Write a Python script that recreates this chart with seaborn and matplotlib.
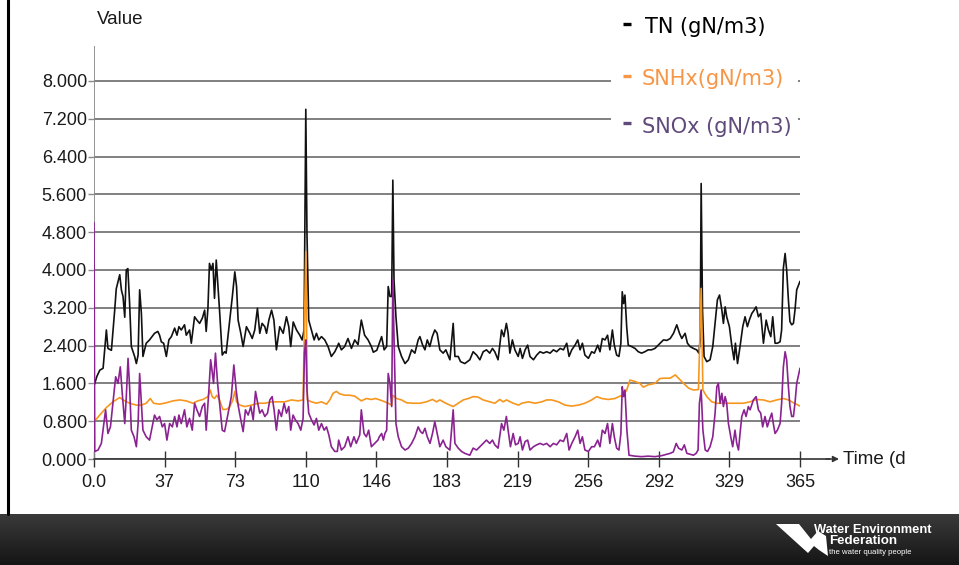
import numpy as np
import matplotlib
matplotlib.use("Agg")
import matplotlib.pyplot as plt
from matplotlib.patches import Rectangle, Polygon
from matplotlib.lines import Line2D
import seaborn as sns

# ---- simulated effluent nitrogen, one year ----
tn_day = [0, 1.5, 3, 4.7, 6.4, 7.2, 9, 10.7, 11.5, 13.3, 14.2, 15, 15.9, 16.7, 17.5, 18.4, 19.3,
          21, 21.9, 22.8, 23.6, 24.5, 25.3, 27, 28.7, 31.3, 33, 33.9, 34.8, 36, 37.4, 38.7, 40,
          41.7, 42.9, 43.9, 45.1, 46.8, 47.7, 49.4, 50.3, 52, 53.2, 54.6, 56, 57.2, 58, 58.9,
          59.7, 60.6, 61.5, 62.3, 63.2, 64, 64.9, 66.3, 67.5, 68.3, 70, 71.5, 72.8, 73.7, 74.5,
          75.9, 77.1, 78.8, 80.6, 81.8, 83.1, 84.5, 85.7, 86.9, 88.3, 89.2, 90.4, 91.8, 93, 94.3,
          96, 97.8, 99.5, 100.7, 101.7, 103, 104.7, 106.4, 107.6, 108.6, 109.5, 110.1, 111,
          112.4, 113.8, 115, 116.2, 117.6, 119.3, 121, 122.7, 124.5, 125.8, 126.5, 127.9, 129.6,
          131.3, 133.1, 134.8, 136.5, 138.2, 139.9, 141.7, 143.4, 144.4, 146.2, 147.5, 148.7,
          150, 151.3, 152.1, 153, 153.9, 154.5, 155.1, 156.1, 157.3, 159, 160.8, 162.5, 164.2,
          165.9, 167.6, 168.5, 169.9, 171.1, 172.3, 173.6, 174.9, 176.2, 177.4, 178.8, 180.5,
          181.9, 184, 185.7, 186.6, 188.3, 189.5, 191.7, 194.3, 196, 197.8, 199.5, 201.2, 202.9,
          204.6, 206, 207.2, 208.9, 210.7, 211.9, 213.2, 214.1, 215, 216.3, 217.6, 219.3, 220.3,
          221.5, 222.9, 224.2, 225.4, 227.2, 228.9, 230.6, 232.3, 234, 235.8, 237.5, 239.2, 241,
          242.7, 244.4, 245.6, 247, 248.7, 250.1, 251.3, 252.5, 253.8, 255.6, 257.3, 258.7,
          260.4, 261.6, 262.8, 264.2, 265.5, 266.7, 268, 269, 270.2, 271.4, 272.4, 273.1, 273.8,
          274.5, 275.4, 276.2, 277.9, 279.7, 281.4, 283.1, 284.8, 286.5, 288.2, 290, 291.7,
          292.7, 294.4, 296.2, 297.9, 299.6, 301.3, 302.7, 303.9, 305.6, 306.8, 308.2, 309.9,
          311.6, 312.7, 313.4, 313.9, 314.6, 315.4, 316.8, 318.5, 319.9, 321.1, 322.3, 323.4,
          324.6, 325.4, 326.3, 327.1, 328.5, 329.7, 330.9, 331.6, 332.7, 334, 335.4, 336.6,
          337.8, 338.8, 340.1, 341.3, 342.3, 343.5, 344.7, 346.1, 347.5, 348.7, 349.9, 350.9,
          352.1, 353.3, 354.7, 355.5, 356.4, 357.3, 358.1, 359, 359.8, 360.7, 361.6, 362.4,
          363.3, 365]
tn_val = [1.55, 1.75, 1.88, 1.92, 2.73, 2.34, 2.30, 3.15, 3.60, 3.90, 3.57, 3.44, 3.00, 4.00, 4.03,
          3.30, 2.38, 2.17, 2.02, 2.20, 3.58, 3.08, 2.17, 2.45, 2.52, 2.66, 2.70, 2.62, 2.48, 2.45,
          2.17, 2.52, 2.59, 2.77, 2.62, 2.80, 2.73, 2.84, 2.62, 2.73, 2.45, 3.01, 2.94, 2.87, 2.98,
          3.15, 2.70, 3.19, 4.14, 4.00, 4.14, 3.40, 4.21, 3.72, 3.15, 2.20, 2.27, 2.24, 2.87, 3.43,
          3.96, 3.65, 2.94, 2.66, 2.38, 2.80, 2.66, 2.55, 2.73, 3.19, 2.66, 2.87, 2.80, 2.66, 2.94,
          3.15, 2.94, 2.31, 2.80, 2.66, 3.01, 2.80, 2.38, 2.90, 2.73, 2.62, 2.52, 2.73, 7.40, 4.78,
          2.94, 2.73, 2.52, 2.66, 2.52, 2.59, 2.52, 2.38, 2.17, 2.27, 2.38, 2.45, 2.31, 2.38, 2.55,
          2.34, 2.52, 2.42, 2.94, 2.62, 2.52, 2.38, 2.26, 2.30, 2.45, 2.59, 2.31, 2.38, 3.65, 3.44,
          3.44, 5.90, 3.79, 3.01, 2.38, 2.17, 2.02, 2.10, 2.31, 2.24, 2.52, 2.59, 2.41, 2.31, 2.52,
          2.38, 2.59, 2.73, 2.66, 2.31, 2.24, 2.31, 2.10, 2.87, 2.17, 2.17, 2.06, 2.02, 2.10, 2.27,
          2.20, 2.10, 2.27, 2.31, 2.24, 2.34, 2.27, 2.10, 2.73, 2.59, 2.87, 2.66, 2.24, 2.52, 2.31,
          2.17, 2.34, 2.13, 2.31, 2.41, 2.17, 2.10, 2.20, 2.27, 2.24, 2.27, 2.24, 2.31, 2.27, 2.34,
          2.31, 2.45, 2.17, 2.31, 2.41, 2.52, 2.31, 2.45, 2.20, 2.13, 2.27, 2.24, 2.41, 2.27, 2.55,
          2.52, 2.62, 2.31, 2.73, 2.41, 2.20, 2.17, 2.45, 3.54, 3.29, 3.47, 2.80, 2.41, 2.38, 2.34,
          2.27, 2.24, 2.27, 2.31, 2.31, 2.34, 2.41, 2.45, 2.52, 2.51, 2.55, 2.66, 2.84, 2.66, 2.55,
          2.66, 2.45, 2.38, 2.34, 2.31, 2.24, 2.52, 5.83, 3.15, 2.17, 2.06, 2.10, 2.38, 2.87, 3.37,
          3.47, 3.15, 2.87, 3.22, 3.01, 2.80, 2.41, 2.10, 2.45, 2.02, 2.38, 2.80, 3.01, 2.80, 2.94,
          3.08, 3.15, 3.22, 3.01, 3.08, 2.45, 2.94, 2.73, 2.59, 3.01, 2.45, 2.45, 2.48, 2.73, 4.04,
          4.35, 4.00, 3.37, 2.91, 2.84, 2.87, 3.15, 3.58, 3.76]

snhx_day = [0, 3, 6.4, 9.8, 13.3, 15, 18.4, 21.9, 24.5, 27, 29.1, 30.8, 33.9, 37.4, 40.8, 44.3,
            47.7, 51.1, 53.7, 56.3, 58.9, 60.1, 61.1, 62.3, 63.5, 64.9, 66.6, 68.3, 70, 71.8,
            72.8, 73.7, 75.4, 78, 81.4, 84.9, 88.3, 91.8, 95.2, 98.6, 102.1, 105.5, 108.1, 109.5,
            110.3, 112.4, 115, 117.6, 120.2, 121.9, 123.6, 125.3, 127, 129.6, 132.2, 134.8,
            136.5, 138.2, 140.8, 143.4, 145.5, 147.8, 150.4, 152.1, 153.9, 154.5, 156.4, 159,
            161.6, 165, 168.5, 171.9, 175, 177.1, 178.8, 181.4, 184, 185.7, 188.3, 190.9, 193.5,
            196, 198.6, 201.2, 204.6, 207.2, 209.8, 211.5, 213.2, 216.7, 219.5, 221.1, 224.6,
            228, 231.5, 234, 236.6, 240.1, 243.5, 247, 250.4, 253.8, 257.3, 259.9, 262.5, 265.9,
            269.3, 271.9, 273.6, 275.4, 277.1, 279.7, 282.2, 284, 286.5, 290, 292.5, 294.4,
            297.9, 300.5, 302.2, 304.8, 307.4, 309.9, 312.5, 313.9, 314.8, 316.8, 319.4, 322,
            325.4, 328.9, 332.3, 335.7, 339.1, 342.6, 346.1, 349.5, 352.9, 356.4, 359, 361.6, 365]
snhx_val = [0.79, 0.93, 1.09, 1.21, 1.30, 1.25, 1.18, 1.14, 1.14, 1.18, 1.28, 1.18, 1.16, 1.19,
            1.23, 1.25, 1.23, 1.18, 1.23, 1.26, 1.32, 1.46, 1.32, 1.28, 1.35, 1.25, 1.05, 1.05,
            1.09, 1.25, 1.43, 1.21, 1.14, 1.11, 1.14, 1.18, 1.18, 1.21, 1.21, 1.21, 1.25, 1.23,
            1.25, 4.39, 1.25, 1.21, 1.18, 1.21, 1.16, 1.25, 1.39, 1.43, 1.38, 1.35, 1.35, 1.33,
            1.28, 1.23, 1.28, 1.26, 1.28, 1.25, 1.21, 1.18, 1.14, 1.35, 1.28, 1.25, 1.19, 1.18,
            1.18, 1.21, 1.26, 1.21, 1.25, 1.19, 1.14, 1.11, 1.18, 1.25, 1.28, 1.32, 1.31, 1.25,
            1.21, 1.18, 1.26, 1.21, 1.25, 1.18, 1.14, 1.18, 1.21, 1.18, 1.21, 1.25, 1.25, 1.21,
            1.14, 1.12, 1.14, 1.18, 1.25, 1.32, 1.28, 1.26, 1.28, 1.33, 1.35, 1.46, 1.67, 1.64,
            1.60, 1.52, 1.57, 1.60, 1.70, 1.71, 1.71, 1.78, 1.71, 1.60, 1.50, 1.46, 1.47, 3.61,
            1.46, 1.32, 1.21, 1.18, 1.18, 1.18, 1.18, 1.18, 1.21, 1.26, 1.25, 1.21, 1.25, 1.28,
            1.25, 1.19, 1.12]

snox_day = [0, 0.4, 2.1, 3.8, 5, 6, 7.2, 8.5, 9.8, 11.2, 12.4, 13.6, 14.6, 15.9, 16.7, 17.6,
            18.4, 19.3, 20.7, 21.9, 22.8, 23.6, 24.5, 25.3, 27, 28.7, 30.1, 31.3, 32.5, 33.9,
            35.3, 36.5, 37.7, 39.1, 40.5, 41.7, 42.9, 43.9, 45.1, 46.8, 48, 49.4, 50.8, 52, 53.2,
            54.6, 56, 57.2, 58, 59.4, 60.3, 61, 61.8, 62.8, 63.9, 64.9, 66.3, 67.5, 68.3, 69.7, 71,
            72.3, 73.5, 74.5, 75.9, 77.1, 78.3, 79.7, 81.1, 82.3, 83.5, 84.5, 85.7, 86.9, 88.3,
            89.7, 90.9, 92.1, 93.1, 94.3, 95.5, 96.9, 98.3, 99.5, 100.7, 101.7, 102.9, 104.1,
            105.5, 106.9, 108.1, 108.8, 109.5, 110.1, 111, 112.4, 113.8, 115, 116.2, 117.6, 119,
            120.2, 121.4, 122.7, 124.5, 125.8, 126.5, 127.9, 129.6, 131.3, 132.7, 134.4, 135.6,
            137.4, 138.2, 139.6, 140.8, 142, 143.4, 145.1, 146.8, 147.5, 148.7, 149.6, 150.4,
            151.3, 152.1, 153, 153.9, 154.5, 155.1, 156.1, 157.3, 159, 160.8, 162.5, 164.2,
            165.9, 167.6, 168.8, 169.9, 171.1, 172.3, 173.7, 175, 176.2, 177.4, 178.8, 180.5,
            181.9, 184, 185.7, 186.6, 188.3, 190, 191.7, 194.3, 196, 197.8, 199.5, 201.2, 202.9,
            204.6, 206, 207.2, 208.9, 210.7, 211.9, 213.2, 214.1, 215.3, 216.7, 217.9, 219.3,
            220.3, 221.5, 222.9, 224.2, 225.4, 227.2, 228.9, 230.6, 232.3, 234, 235.8, 237.5,
            239.2, 241, 242.7, 244.4, 245.6, 247, 248.7, 250.1, 251.3, 252.5, 253.8, 255.6,
            257.3, 258.7, 260.4, 261.6, 262.8, 264.2, 265.5, 266.7, 268, 269, 270.2, 271.4,
            272.4, 273.1, 273.8, 274.5, 275.5, 276.6, 279.7, 283.1, 286.5, 290, 293.4, 296,
            297.9, 299.5, 301, 302.2, 303.9, 305.2, 306.5, 309.9, 311.3, 312.3, 313, 313.9,
            314.8, 316, 317.2, 318.5, 319.9, 321.1, 322, 322.8, 323.7, 324.6, 325.4, 326.3,
            327.1, 328, 329.2, 330.2, 331.4, 332.3, 333.2, 334, 334.9, 336.1, 337.1, 338.3,
            339.2, 340.9, 342.3, 343.5, 344.7, 345.7, 346.9, 348.1, 349.2, 350.4, 351.2, 352.1,
            353.3, 354.7, 355.5, 356.4, 357.3, 358.1, 359, 359.8, 360.7, 361.6, 362.4, 363.3, 365]
snox_val = [5.00, 0.16, 0.19, 0.33, 0.72, 1.04, 0.54, 0.68, 1.18, 1.74, 1.60, 1.95, 1.39, 0.75,
            1.32, 2.13, 1.53, 0.61, 0.47, 0.26, 0.75, 1.81, 1.18, 0.61, 0.47, 0.40, 0.68, 0.93,
            0.83, 0.90, 0.68, 0.75, 0.40, 0.75, 0.68, 0.90, 0.68, 0.93, 0.75, 1.04, 0.68, 0.86,
            0.61, 1.18, 1.04, 0.90, 1.11, 1.18, 0.61, 1.46, 2.10, 1.88, 1.60, 2.24, 1.60, 1.18,
            0.61, 0.58, 0.75, 1.04, 1.32, 1.99, 1.46, 1.14, 0.83, 0.58, 1.04, 0.93, 1.11, 0.83,
            1.43, 1.21, 0.97, 1.04, 0.90, 0.97, 1.25, 1.32, 1.04, 0.61, 1.04, 0.90, 1.18, 0.97,
            1.11, 0.61, 0.93, 0.83, 0.75, 0.61, 0.86, 2.24, 2.52, 1.46, 0.97, 0.83, 0.72, 0.86,
            0.61, 0.75, 0.61, 0.68, 0.51, 0.26, 0.16, 0.16, 0.40, 0.19, 0.26, 0.47, 0.26, 0.47,
            0.33, 0.51, 1.04, 0.54, 0.47, 0.61, 0.26, 0.33, 0.40, 0.47, 0.54, 0.40, 0.54, 0.61,
            1.81, 1.60, 1.11, 3.79, 2.59, 0.75, 0.47, 0.26, 0.19, 0.23, 0.33, 0.47, 0.68, 0.58,
            0.54, 0.65, 0.47, 0.33, 0.54, 0.79, 0.54, 0.26, 0.40, 0.26, 0.19, 1.04, 0.33, 0.23,
            0.16, 0.12, 0.08, 0.23, 0.19, 0.26, 0.33, 0.40, 0.33, 0.40, 0.30, 0.23, 0.75, 0.61,
            0.90, 0.61, 0.26, 0.54, 0.30, 0.33, 0.47, 0.19, 0.37, 0.40, 0.19, 0.26, 0.30, 0.33,
            0.30, 0.33, 0.26, 0.33, 0.30, 0.40, 0.37, 0.54, 0.19, 0.33, 0.47, 0.61, 0.33, 0.47,
            0.19, 0.16, 0.26, 0.26, 0.40, 0.26, 0.61, 0.54, 0.75, 0.33, 0.75, 0.47, 0.23, 0.19,
            0.54, 1.53, 1.32, 1.46, 0.61, 0.08, 0.06, 0.05, 0.06, 0.05, 0.07, 0.10, 0.12, 0.15,
            0.33, 0.23, 0.19, 0.30, 0.12, 0.08, 0.12, 0.19, 1.18, 1.46, 0.61, 0.19, 0.16, 0.26,
            0.47, 0.97, 1.53, 1.60, 1.18, 1.39, 1.11, 1.32, 1.18, 0.75, 0.47, 0.26, 0.61, 0.33,
            0.19, 0.54, 0.90, 1.04, 0.90, 1.11, 1.04, 1.25, 1.32, 1.04, 0.97, 0.68, 0.90, 0.68,
            0.83, 0.97, 0.75, 0.54, 0.61, 0.75, 1.18, 1.95, 2.27, 2.10, 1.53, 1.11, 0.90, 0.90,
            1.18, 1.60, 1.92]

series_names = ["TN (gN/m3)", "SNHx(gN/m3)", "SNOx (gN/m3)"]
line_colors = ["#111111", "#f7961e", "#8a2391"]
legend_colors = ["#000000", "#f79646", "#604a7b"]

y_ticks = [0.0, 0.8, 1.6, 2.4, 3.2, 4.0, 4.8, 5.6, 6.4, 7.2, 8.0]
x_ticks = [0, 36.5, 73, 109.5, 146, 182.5, 219, 255.5, 292, 328.5, 365]
x_tick_labels = ["0.0", "37", "73", "110", "146", "183", "219", "256", "292", "329", "365"]

# ---- figure ----
sns.set_theme(style="white")
plt.rcParams["font.family"] = ["Liberation Sans", "DejaVu Sans"]

W, H = 959, 565
fig = plt.figure(figsize=(W / 100, H / 100), dpi=100)
fig.patch.set_facecolor("white")


def fx(px):
    return px / W


def fy(py):
    return 1 - py / H


ax = fig.add_axes([fx(94), fy(459), fx(800) - fx(94), fy(46) - fy(459)])
ax.set_facecolor("none")
ax.set_xlim(0, 365)
ax.set_ylim(0, 8.74)

for d, v, c, z in [(tn_day, tn_val, line_colors[0], 3),
                   (snhx_day, snhx_val, line_colors[1], 4),
                   (snox_day, snox_val, line_colors[2], 5)]:
    sns.lineplot(x=d, y=v, ax=ax, color=c, lw=1.2, estimator=None, sort=False, zorder=z)

for s in ax.spines.values():
    s.set_visible(False)

ax.set_yticks(y_ticks)
ax.set_yticklabels([f"{t:.3f}" for t in y_ticks])
ax.yaxis.grid(True, color="#6b6b6b", lw=1.2)
ax.xaxis.grid(False)
ax.set_axisbelow(True)
ax.set_xticks(x_ticks)
ax.set_xticklabels(x_tick_labels)
ax.tick_params(axis="y", left=True, length=4, width=1.0, color="#8a8a8a",
               direction="out", pad=1, labelsize=13, labelcolor="#1a1a1a")
ax.tick_params(axis="x", bottom=True, length=12, width=1.0, color="#333333",
               direction="inout", pad=5, labelsize=13, labelcolor="#1a1a1a")
ax.set_xlabel("")
ax.set_ylabel("")

# vertical axis line
ax.axvline(0, color="#8a8a8a", lw=1.3, zorder=2)

# horizontal axis with arrow head
fig.add_artist(Line2D([fx(94), fx(830)], [fy(459), fy(459)], color="#333333", lw=1.2))
ax.annotate("", xy=(fx(839), fy(459)), xytext=(fx(826), fy(459)),
            xycoords="figure fraction", textcoords="figure fraction",
            arrowprops=dict(arrowstyle="-|>", color="#333333", lw=1.0,
                            mutation_scale=9, shrinkA=0, shrinkB=0))
fig.text(fx(843), fy(459), "Time (d", ha="left", va="center", fontsize=13.5, color="#1a1a1a")
fig.text(fx(97), fy(20), "Value", ha="left", va="center", fontsize=13.5, color="#1a1a1a")

# legend panel
fig.add_artist(Rectangle((fx(611), fy(150)), fx(798) - fx(611), fy(0) - fy(150),
                         transform=fig.transFigure, facecolor="white", edgecolor="none",
                         zorder=5))
leg_y = [27, 79, 127]
leg_dash_y = [24, 76, 123]
leg_x = [645, 642, 642]
for name, col, ty, dy, tx in zip(series_names, legend_colors, leg_y, leg_dash_y, leg_x):
    fig.add_artist(Line2D([fx(623), fx(631)], [fy(dy), fy(dy)], color=col, lw=2.4,
                          solid_capstyle="butt", zorder=6))
    fig.text(fx(tx), fy(ty), name, ha="left", va="center", fontsize=15, color=col,
             family=["DejaVu Sans"], zorder=6)

# slide frame: left rule and footer band
fig.add_artist(Line2D([fx(8), fx(8)], [fy(0), fy(514)], color="#000000", lw=2.2))
band = fig.add_axes([0, 0, 1, fy(514)])
band.axis("off")
grad = np.linspace(0, 1, 64).reshape(-1, 1)
band.imshow(grad, aspect="auto", extent=[0, 1, 0, 1],
            cmap=matplotlib.colors.LinearSegmentedColormap.from_list(
                "band", ["#3a3a3a", "#151515"]))
band.set_xlim(0, 1)
band.set_ylim(0, 1)

# footer logo
logo = Polygon([(fx(776), fy(524)), (fx(799), fy(524)), (fx(811), fy(539)), (fx(818), fy(531)),
                (fx(826), fy(536)), (fx(828), fy(556)), (fx(819), fy(550)), (fx(814), fy(546)),
                (fx(808), fy(553))], closed=True, transform=fig.transFigure,
               facecolor="white", edgecolor="none", zorder=7)
fig.add_artist(logo)
fig.text(fx(814), fy(530), "Water Environment", ha="left", va="center", fontsize=9.3,
         fontweight="bold", color="white", zorder=8)
fig.text(fx(829), fy(541), "Federation", ha="left", va="center", fontsize=9.6,
         fontweight="bold", color="white", zorder=8)
fig.text(fx(829), fy(552), "the water quality people", ha="left", va="center", fontsize=5.6,
         color="white", zorder=8)

fig.savefig("out.png", dpi=100)
